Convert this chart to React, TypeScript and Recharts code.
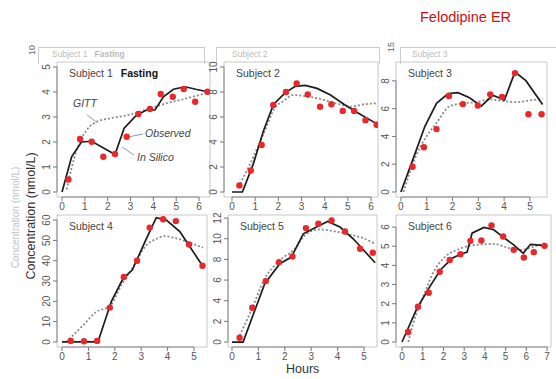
import React from "react";
import {
  ComposedChart, Line, Scatter, XAxis, YAxis, ReferenceArea, ReferenceLine,
} from "recharts";

// [hours, nmol/L] pairs
const S1_OBS = [[0.28, 0.5], [0.79, 2.12], [1.3, 2.01], [1.81, 1.41], [2.32, 1.52], [2.83, 2.21], [3.34, 3.12], [3.85, 3.32], [4.32, 3.92], [4.85, 3.81], [5.33, 4.12], [5.83, 3.61], [6.37, 4.01]];
const S1_SIM = [[0, 0], [0.42, 1.41], [0.85, 2.0], [1.3, 2.03], [2.32, 1.5], [2.72, 2.55], [3.27, 3.08], [3.71, 3.28], [4.07, 3.28], [4.44, 3.81], [4.88, 4.11], [5.39, 4.21], [5.9, 4.1], [6.37, 4.01]];
const S1_GITT = [[0.2, 0.1], [0.64, 1.68], [1.08, 2.48], [1.52, 2.81], [2.1, 2.95], [2.69, 3.04], [3.27, 3.17], [3.85, 3.35], [4.58, 3.55], [5.31, 3.71], [6.37, 3.97]];

const S2_OBS = [[0.32, 0.53], [0.81, 1.72], [1.28, 3.76], [1.78, 6.97], [2.33, 8.0], [2.79, 8.69], [3.27, 7.81], [3.8, 6.83], [4.29, 7.02], [4.78, 6.49], [5.27, 6.49], [5.76, 5.75], [6.24, 5.38]];
const S2_SIM = [[0, 0], [0.45, 0], [0.92, 2.25], [1.36, 4.9], [1.79, 7.0], [2.3, 7.95], [2.73, 8.45], [3.16, 8.53], [3.67, 8.29], [4.25, 7.76], [4.83, 7.02], [5.4, 6.36], [6.27, 5.43]];
const S2_GITT = [[0.27, 0.4], [0.78, 2.25], [1.36, 4.64], [1.86, 6.75], [2.22, 7.28], [2.66, 7.76], [3.09, 7.68], [3.67, 7.5], [4.39, 7.15], [5.12, 6.83], [5.69, 7.02], [6.27, 7.1]];

const S3_OBS = [[0.45, 1.82], [0.89, 3.22], [1.38, 4.53], [1.86, 6.91], [2.4, 6.33], [2.98, 6.23], [3.46, 7.03], [3.92, 6.84], [4.42, 8.56], [4.94, 5.6], [5.45, 5.6]];
const S3_SIM = [[0, 0], [0.48, 2.42], [0.93, 4.73], [1.38, 6.38], [1.83, 7.08], [2.21, 7.15], [2.66, 6.79], [3.11, 6.18], [3.56, 6.96], [4.01, 6.62], [4.42, 8.65], [4.85, 8.0], [5.49, 6.3]];
const S3_GITT = [[0.1, 0], [0.6, 2.67], [0.99, 4.0], [1.38, 4.97], [1.89, 6.18], [2.4, 6.38], [2.92, 6.47], [3.43, 6.67], [3.95, 6.55], [4.46, 6.47], [4.97, 6.59], [5.49, 6.72]];

const S4_OBS = [[0.33, 0.5], [0.83, 0.3], [1.33, 0.5], [1.81, 16.9], [2.34, 32], [2.84, 40], [3.32, 56.3], [3.83, 60.4], [4.31, 59.5], [4.81, 48], [5.32, 37.5]];
const S4_SIM = [[0, 0], [1.36, 0], [1.87, 20], [2.31, 31.2], [2.66, 35.4], [3.2, 51], [3.57, 61.2], [3.95, 60], [4.46, 54.3], [5.32, 37.5]];
const S4_GITT = [[0.16, 0], [0.8, 8.2], [1.3, 14.8], [1.81, 17.6], [2.25, 28], [2.69, 37], [3.2, 47.7], [3.57, 50.7], [3.89, 52.1], [4.33, 51], [4.84, 48.8], [5.34, 46.4]];

const S5_OBS = [[0.29, 0.42], [0.77, 3.32], [1.28, 5.9], [1.78, 7.74], [2.29, 8.29], [2.8, 11.03], [3.27, 11.45], [3.77, 11.77], [4.28, 10.7], [4.85, 9.03], [5.33, 8.65]];
const S5_SIM = [[0, 0], [0.42, 0], [1.24, 5.65], [1.81, 7.58], [2.25, 8.23], [2.7, 10.48], [3.2, 11.13], [3.62, 11.68], [4.09, 11.13], [4.59, 10.0], [5.42, 7.68]];
const S5_GITT = [[0.23, 0.3], [0.73, 3.06], [1.24, 6.13], [1.81, 7.9], [2.38, 9.03], [2.82, 10.48], [3.33, 10.9], [3.83, 10.74], [4.46, 10.39], [4.97, 10.06], [5.42, 9.5]];

const S6_OBS = [[0.29, 0.52], [0.77, 1.84], [1.29, 2.57], [1.82, 3.67], [2.3, 4.28], [2.82, 4.58], [3.3, 5.28], [3.83, 5.3], [4.32, 6.08], [4.88, 5.51], [5.39, 4.81], [5.88, 4.41], [6.36, 4.69], [6.88, 5.02]];
const S6_SIM = [[0, 0], [0.72, 1.75], [1.29, 2.8], [1.85, 3.76], [2.42, 4.37], [2.82, 4.58], [3.14, 4.69], [3.38, 5.68], [3.95, 5.98], [4.43, 5.86], [4.91, 5.45], [5.39, 5.07], [5.85, 4.63], [6.2, 5.1], [6.52, 5.07], [6.88, 5.02]];
const S6_GITT = [[0.3, 0], [0.56, 1.05], [1.05, 2.45], [1.53, 3.67], [2.09, 4.46], [2.66, 4.81], [3.3, 5.03], [3.95, 5.1], [4.43, 5.12], [5.07, 4.93], [5.72, 4.81], [6.36, 4.98], [6.88, 5.16]];

const X_TICKS_6 = [0, 1, 2, 3, 4, 5, 6];
const X_TICKS_5 = [0, 1, 2, 3, 4, 5];
const X_TICKS_7 = [0, 1, 2, 3, 4, 5, 6, 7];

const pts = (a: number[][]) => a.map(([t, c]) => ({ t, c }));

const FONT = "'Liberation Sans', Arial, sans-serif";

const PANELS = [
  { name: "Subject 1", extra: "Fasting", obs: S1_OBS, sim: S1_SIM, gitt: S1_GITT, left: 57, top: 62, w: 153, h: 135, x: [-0.22, 6.48], y: [-0.2, 5.2], xt: X_TICKS_6, yt: [0, 1, 2, 3, 4, 5] },
  { name: "Subject 2", obs: S2_OBS, sim: S2_SIM, gitt: S2_GITT, left: 224, top: 62, w: 154, h: 135, x: [-0.345, 6.3], y: [-0.4, 10.4], xt: X_TICKS_6, yt: [0, 2, 4, 6, 8, 10] },
  { name: "Subject 3", obs: S3_OBS, sim: S3_SIM, gitt: S3_GITT, left: 396, top: 62, w: 151, h: 135, x: [-0.19, 5.66], y: [-0.36, 9.36], xt: X_TICKS_5, yt: [0, 2, 4, 6, 8] },
  { name: "Subject 4", obs: S4_OBS, sim: S4_SIM, gitt: S4_GITT, left: 57, top: 215, w: 150, h: 132, x: [-0.19, 5.49], y: [-2.5, 62.5], xt: X_TICKS_5, yt: [0, 10, 20, 30, 40, 50, 60] },
  { name: "Subject 5", obs: S5_OBS, sim: S5_SIM, gitt: S5_GITT, left: 228, top: 215, w: 149, h: 132, x: [-0.15, 5.49], y: [-0.48, 12.3], xt: X_TICKS_5, yt: [0, 2, 4, 6, 8, 10, 12] },
  { name: "Subject 6", obs: S6_OBS, sim: S6_SIM, gitt: S6_GITT, left: 396, top: 215, w: 155, h: 132, x: [-0.29, 7.19], y: [-0.26, 6.63], xt: X_TICKS_7, yt: [0, 1, 2, 3, 4, 5, 6] },
];

const YTick = (props: any) => {
  const { x, y, payload } = props;
  const xx = x - 1;
  return (
    <text x={xx} y={y} transform={`rotate(-90 ${xx} ${y})`} textAnchor="middle" fontSize={10} fill="#555">
      {payload.value}
    </text>
  );
};

const RedDot = (props: any) => <circle cx={props.cx} cy={props.cy} r={3.2} fill="#e8282b" />;

function Panel({ p, first }: { p: any; first: boolean }) {
  const W = p.w + 36;
  const H = p.h + 28;
  const xt = p.xt, yt = p.yt;
  return (
    <div style={{ position: "absolute", left: p.left - 30, top: p.top - 6 }}>
      <ComposedChart width={W} height={H} margin={{ top: 6, right: 6, left: 0, bottom: 0 }}>
        <XAxis type="number" dataKey="t" domain={p.x} ticks={xt} interval={0} allowDataOverflow
          axisLine={false} tickSize={4} tickLine={{ stroke: "#777" }} height={22}
          tick={{ fontSize: 10, fill: "#555" }} />
        <YAxis type="number" dataKey="c" domain={p.y} ticks={yt} interval={0} allowDataOverflow
          axisLine={false} tickSize={4} tickLine={{ stroke: "#777" }} width={30} tick={YTick} />
        <ReferenceArea x1={p.x[0]} x2={p.x[1]} y1={p.y[0]} y2={p.y[1]} fill="#fff" fillOpacity={0} stroke="#c8c8c8" strokeWidth={1} />
        <ReferenceLine segment={[{ x: xt[0], y: p.y[0] }, { x: xt[xt.length - 1], y: p.y[0] }]} stroke="#888" />
        <ReferenceLine segment={[{ x: p.x[0], y: yt[0] }, { x: p.x[0], y: yt[yt.length - 1] }]} stroke="#888" />
        {first && (
          <>
            <ReferenceLine segment={[{ x: 1.1, y: 3.08 }, { x: 1.53, y: 2.78 }]} stroke="#999" />
            <ReferenceLine segment={[{ x: 2.9, y: 2.2 }, { x: 3.55, y: 2.32 }]} stroke="#999" />
            <ReferenceLine segment={[{ x: 2.63, y: 1.8 }, { x: 3.15, y: 1.48 }]} stroke="#999" />
          </>
        )}
        <Line data={pts(p.gitt)} dataKey="c" type="monotone" stroke="#8c8c8c" strokeWidth={1.8}
          strokeDasharray="2 2" dot={false} isAnimationActive={false} />
        <Line data={pts(p.sim)} dataKey="c" type="linear" stroke="#1c1c1c" strokeWidth={1.7}
          dot={false} isAnimationActive={false} />
        <Scatter data={pts(p.obs)} dataKey="c" shape={RedDot} isAnimationActive={false} />
      </ComposedChart>
    </div>
  );
}

const abs = (left: number, top: number, extra: any = {}) => ({ position: "absolute" as const, left, top, ...extra });

export default function App() {
  return (
    <div style={{ position: "absolute", left: 0, top: 0, width: 556, height: 379, background: "#fff", fontFamily: FONT, overflow: "hidden" }}>
      {/* title */}
      <div style={abs(420, 9, { fontSize: 14.5, color: "#cc1010", whiteSpace: "nowrap" })}>Felodipine ER</div>

      {/* faint figure behind the main one */}
      <div style={abs(38, 47, { width: 165, height: 16, borderTop: "1px solid #ccc", borderLeft: "1px solid #ccc", borderRight: "1px solid #ccc" })} />
      <div style={abs(216, 47, { width: 162, height: 16, borderTop: "1px solid #ccc", borderLeft: "1px solid #ccc", borderRight: "1px solid #ccc" })} />
      <div style={abs(400, 47, { width: 160, height: 16, borderTop: "1px solid #ccc", borderLeft: "1px solid #ccc" })} />
      <div style={abs(27, 45, { fontSize: 9, color: "#666", transform: "rotate(-90deg)" })}>10</div>
      <div style={abs(386, 42, { fontSize: 9, color: "#666", transform: "rotate(-90deg)" })}>15</div>
      <div style={abs(52, 49, { fontSize: 8.5, color: "#bbb", whiteSpace: "nowrap" })}>Subject 1&nbsp;&nbsp;&nbsp;<b>Fasting</b></div>
      <div style={abs(232, 49, { fontSize: 8.5, color: "#bbb" })}>Subject 2</div>
      <div style={abs(412, 49, { fontSize: 8.5, color: "#bbb" })}>Subject 3</div>
      <div style={abs(-45, 212, { width: 120, textAlign: "center", fontSize: 10, color: "#c4c4c4", transform: "rotate(-90deg)", whiteSpace: "nowrap" })}>
        Concentration (nmol/L)
      </div>

      {PANELS.map((p, i) => <Panel key={p.name} p={p} first={i === 0} />)}

      {/* subject labels */}
      {PANELS.map((p) => (
        <div key={p.name + "l"} style={abs(p.left + 12, p.top + 5, { fontSize: 10.5, color: "#444", whiteSpace: "nowrap" })}>
          {p.name}
          {p.extra && <b style={{ color: "#111", marginLeft: 8 }}>{p.extra}</b>}
        </div>
      ))}

      {/* panel 1 annotations */}
      <div style={abs(73, 97, { fontSize: 10.5, fontStyle: "italic", color: "#444" })}>GITT</div>
      <div style={abs(145, 127, { fontSize: 10.5, fontStyle: "italic", color: "#444" })}>Observed</div>
      <div style={abs(137, 151, { fontSize: 10.5, fontStyle: "italic", color: "#444" })}>In Silico</div>

      {/* axis titles */}
      <div style={abs(-34, 209, { width: 130, textAlign: "center", fontSize: 12.5, color: "#333", transform: "rotate(-90deg)", whiteSpace: "nowrap" })}>
        Concentration (nmol/L)
      </div>
      <div style={abs(286, 362, { fontSize: 12.5, color: "#333" })}>Hours</div>
    </div>
  );
}
